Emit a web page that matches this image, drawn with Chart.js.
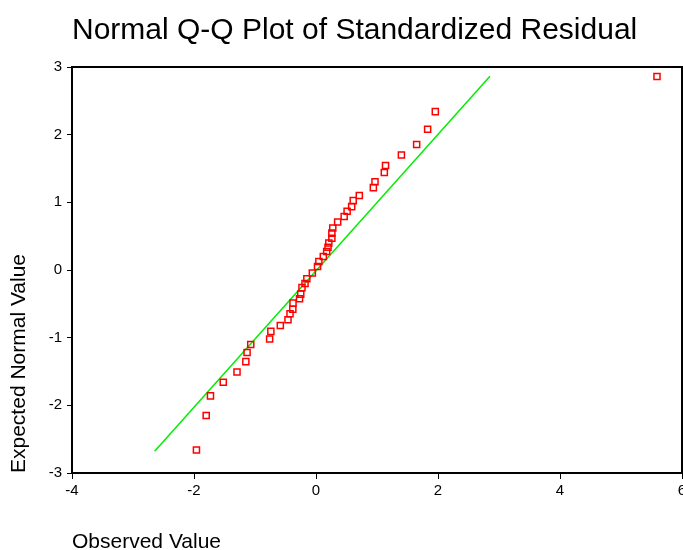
<!DOCTYPE html>
<html>
<head>
<meta charset="utf-8">
<script src="https://cdn.jsdelivr.net/npm/chart.js@4"></script>
<style>
  html, body { margin: 0; padding: 0; background: #fff; overflow: hidden; }
  #wrap { width: 683px; height: 550px; position: relative; }
</style>
</head>
<body>
<div id="wrap"><canvas id="c" width="683" height="550"></canvas></div>
<script>
// Observed standardized residuals (x) and expected normal values (y)
const observedValues = [5.59, 1.956, 1.83, 1.65, 1.40, 1.14, 1.12, 0.967, 0.94, 0.71, 0.61, 0.585, 0.51, 0.462, 0.355, 0.275, 0.26, 0.26, 0.21, 0.197, 0.175, 0.12, 0.047, 0.025, -0.06, -0.15, -0.18, -0.23, -0.25, -0.27, -0.377, -0.38, -0.426, -0.459, -0.585, -0.74, -0.76, -1.07, -1.13, -1.15, -1.295, -1.52, -1.73, -1.80, -1.96];
const expectedValues = [2.86, 2.34, 2.08, 1.855, 1.70, 1.545, 1.44, 1.305, 1.217, 1.10, 1.025, 0.937, 0.867, 0.79, 0.71, 0.62, 0.545, 0.47, 0.40, 0.336, 0.273, 0.20, 0.125, 0.052, -0.045, -0.13, -0.20, -0.26, -0.357, -0.425, -0.49, -0.58, -0.646, -0.735, -0.82, -0.907, -1.02, -1.10, -1.22, -1.354, -1.507, -1.66, -1.86, -2.15, -2.66];
// Reference line endpoints
const lineX = [-2.645, 2.852];
const lineY = [-2.68, 2.864];
// Axis tick values
const xTicks = [-4, -2, 0, 2, 4, 6];
const yTicks = [-3, -2, -1, 0, 1, 2, 3];

const chartTitle = 'Normal Q-Q Plot of Standardized Residual';
const xTitle = 'Observed Value';
const yTitle = 'Expected Normal Value';

const FONT = "'Liberation Sans', Arial, Helvetica, sans-serif";
Chart.defaults.color = '#000';
Chart.defaults.font.family = FONT;

const points = observedValues.map((x, i) => ({ x: x, y: expectedValues[i] }));
const linePts = lineX.map((x, i) => ({ x: x, y: lineY[i] }));

const frame = {
  id: 'frame',
  afterDatasetsDraw(chart) {
    const a = chart.chartArea, ctx = chart.ctx;
    ctx.save();
    ctx.strokeStyle = '#000';
    ctx.lineWidth = 2;
    ctx.strokeRect(a.left, a.top, a.right - a.left, a.bottom - a.top);
    ctx.restore();
  }
};

new Chart(document.getElementById('c'), {
  type: 'scatter',
  data: {
    datasets: [
      {
        label: 'Residual',
        data: points,
        pointStyle: 'rect',
        pointRadius: 4.3,
        pointHoverRadius: 4.3,
        borderColor: '#ff0000',
        backgroundColor: 'rgba(0,0,0,0)',
        borderWidth: 1.5
      },
      {
        type: 'line',
        label: 'Normal',
        data: linePts,
        borderColor: '#00ee00',
        borderWidth: 1.5,
        pointRadius: 0,
        fill: false
      }
    ]
  },
  options: {
    responsive: false,
    animation: false,
    events: [],
    layout: { autoPadding: false, padding: { left: 0, right: 1, top: 0, bottom: 0 } },
    plugins: {
      legend: { display: false },
      tooltip: { enabled: false },
      title: {
        display: true,
        text: chartTitle,
        align: 'start',
        fullSize: false,
        color: '#000',
        font: { size: 30, weight: 'normal', family: FONT, lineHeight: 1.2 },
        padding: { top: 13, bottom: 18 }
      }
    },
    scales: {
      x: {
        type: 'linear',
        min: xTicks[0],
        max: xTicks[xTicks.length - 1],
        afterBuildTicks(s) { s.ticks = xTicks.map(v => ({ value: v })); },
        afterFit(s) { s.height = 77; s.paddingLeft = 0; s.paddingRight = 0; },
        grid: { drawOnChartArea: false, drawTicks: true, tickLength: 6, color: '#000', tickWidth: 1 },
        border: { display: true, color: '#000', width: 2 },
        ticks: { padding: 3, color: '#000', font: { size: 15, family: FONT }, maxRotation: 0, autoSkip: false },
        title: {
          display: true,
          text: xTitle,
          align: 'start',
          color: '#000',
          font: { size: 21, family: FONT, lineHeight: 0.75 },
          padding: 0
        }
      },
      y: {
        type: 'linear',
        min: yTicks[0],
        max: yTicks[yTicks.length - 1],
        afterBuildTicks(s) { s.ticks = yTicks.map(v => ({ value: v })); },
        afterFit(s) { s.width = 72; s.paddingTop = 0; s.paddingBottom = 0; },
        grid: { drawOnChartArea: false, drawTicks: true, tickLength: 5, color: '#000', tickWidth: 1 },
        border: { display: true, color: '#000', width: 2 },
        ticks: { padding: 5, color: '#000', font: { size: 15, family: FONT }, autoSkip: false },
        title: {
          display: true,
          text: yTitle,
          align: 'start',
          color: '#000',
          font: { size: 21, family: FONT, lineHeight: 1.2 },
          padding: { top: 7, bottom: 0 }
        }
      }
    }
  },
  plugins: [frame]
});
</script>
</body>
</html>
